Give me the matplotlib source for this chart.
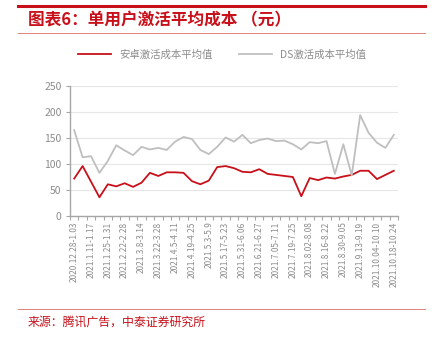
import numpy as np
import matplotlib
matplotlib.use("Agg")
from matplotlib import pyplot as plt

plt.rcParams['font.family'] = ['Noto Sans CJK SC', 'DejaVu Sans']

# weekly periods; only every other one gets a visible label
weeks = [
    "2020.12.28-1.03", "2021.1.04-1.10", "2021.1.11-1.17", "2021.1.18-1.24",
    "2021.1.25-1.31", "2021.2.08-2.14", "2021.2.22-2.28", "2021.3.1-3.7",
    "2021.3.8-3.14", "2021.3.15-3.21", "2021.3.22-3.28", "2021.3.29-4.4",
    "2021.4.5-4.11", "2021.4.12-4.18", "2021.4.19-4.25", "2021.4.26-5.2",
    "2021.5.3-5.9", "2021.5.10-5.16", "2021.5.17-5.23", "2021.5.24-5.30",
    "2021.5.31-6.06", "2021.6.07-6.13", "2021.6.21-6.27", "2021.6.28-7.04",
    "2021.7.05-7.11", "2021.7.12-7.18", "2021.7.19-7.25", "2021.7.26-8.01",
    "2021.8.02-8.08", "2021.8.09-8.15", "2021.8.16-8.22", "2021.8.23-8.29",
    "2021.8.30-9.05", "2021.9.06-9.12", "2021.9.13-9.19", "2021.9.20-9.26",
    "2021.10.04-10.10", "2021.10.11-10.17", "2021.10.18-10.24",
]

android_cost = [72, 96, 66, 36, 61, 57, 63, 56, 64, 83, 77, 84, 84, 83,
                67, 61, 68, 94, 96, 92, 85, 84, 90, 81, 79, 77, 75, 38,
                73, 69, 74, 72, 76, 79, 87, 87, 71, 79, 87]
ds_cost = [165, 113, 115, 83, 106, 136, 126, 117, 133, 128, 131, 127, 143,
           152, 148, 127, 119, 133, 151, 143, 156, 140, 146, 149, 144, 145,
           138, 128, 142, 140, 144, 81, 138, 78, 194, 160, 141, 131, 156]

red = '#c8101a'
gray = '#bfbfbf'

fig = plt.figure(figsize=(4.34, 3.37), dpi=100)

# header: thick red rule, title, thin red rule
fig.add_artist(plt.Line2D([18/434, 425/434], [1 - 5.5/337] * 2, color=red, lw=2.2))
fig.text(28/434, 1 - 20/337, "图表6：单用户激活平均成本 （元）", color=red,
         fontsize=12, fontweight='bold', fontstyle='italic', va='center', ha='left')
fig.add_artist(plt.Line2D([18/434, 425/434], [1 - 32.5/337] * 2, color='#e08080', lw=0.7))

# footer rule and source
fig.add_artist(plt.Line2D([18/434, 425/434], [1 - 309/337] * 2, color='#e08080', lw=0.7))
fig.text(28/434, 1 - 322/337, "来源：腾讯广告，中泰证券研究所", color=red,
         fontsize=8.6, va='center', ha='left')

ax = fig.add_axes([70/434, 1 - 216/337, 328/434, 130/337])
x = np.arange(len(weeks))
ax.plot(x, android_cost, color=red, lw=1.3, label="安卓激活成本平均值")
ax.plot(x, ds_cost, color=gray, lw=1.3, label="DS激活成本平均值")

ax.set_xlim(-0.5, len(weeks) - 0.5)
ax.set_ylim(0, 250)
ax.set_yticks(np.arange(0, 251, 50))
ax.grid(axis='y', color='#e6e6e6', lw=0.8)
ax.set_axisbelow(True)

# ticks sit between categories, labels on every other category
ax.set_xticks(np.arange(-0.5, len(weeks), 1))
ax.set_xticklabels([])
ax.set_xticks(x[::2], minor=True)
ax.set_xticklabels(weeks[::2], minor=True, rotation=90, fontsize=6, color='#8c8c8c')
ax.tick_params(axis='x', which='major', length=3, color='#a6a6a6', width=0.8)
ax.tick_params(axis='x', which='minor', length=0, pad=4)
ax.tick_params(axis='y', length=3, color='#a6a6a6', width=0.8, labelsize=7.5,
               labelcolor='#8c8c8c', pad=3)

for s in ['top', 'right']:
    ax.spines[s].set_visible(False)
for s in ['left', 'bottom']:
    ax.spines[s].set_color('#a6a6a6')
    ax.spines[s].set_linewidth(1.0)

fig.legend(loc='center', bbox_to_anchor=(222/434, 1 - 55/337), ncol=2,
           frameon=False, fontsize=7.5, handlelength=3.2, columnspacing=2.5,
           labelcolor='#8c8c8c')

fig.savefig('out.png', dpi=100)
